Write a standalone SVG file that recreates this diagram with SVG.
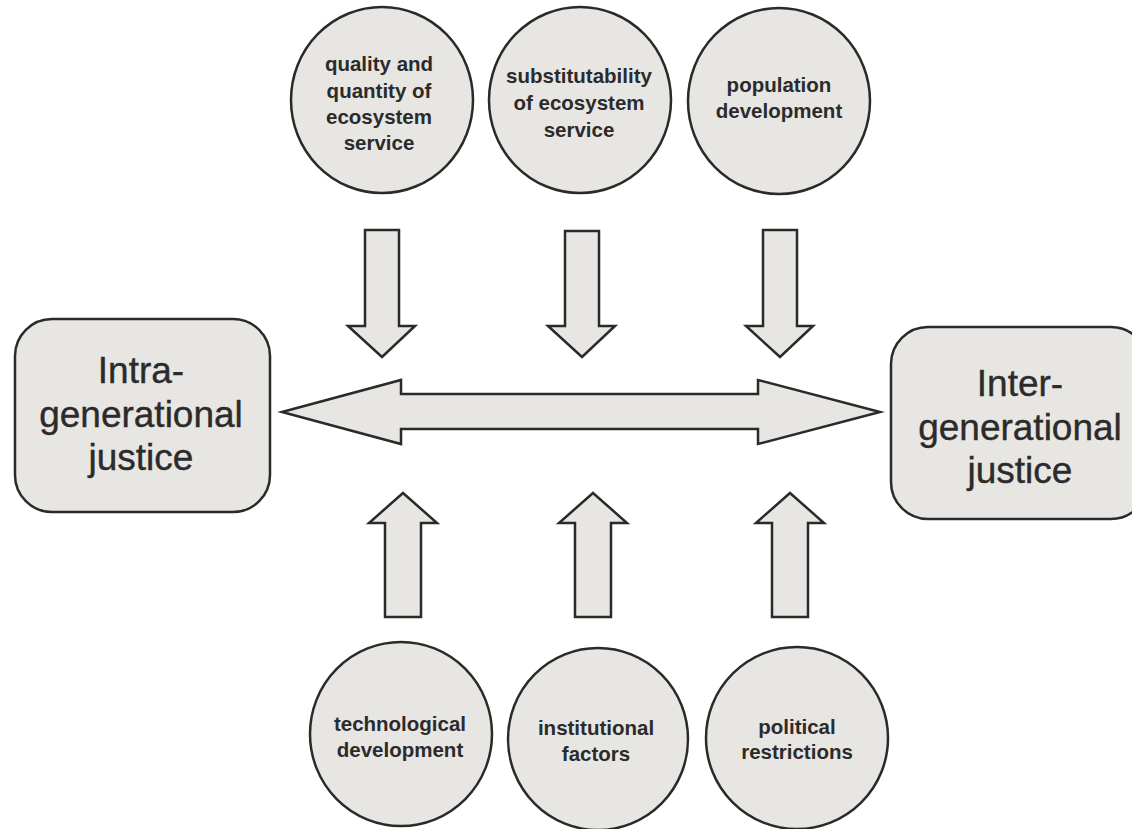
<svg xmlns="http://www.w3.org/2000/svg" width="1132" height="829" viewBox="0 0 1132 829">
<style>
.shape{fill:#e8e6e3;stroke:#2a2a2a;stroke-width:2.5;stroke-linejoin:miter}
.ct{font-family:"Liberation Sans",Arial,sans-serif;font-weight:bold;font-size:20.5px;fill:#2b2b2b;text-anchor:middle}
.bt{font-family:"Liberation Sans",Arial,sans-serif;font-size:37px;fill:#2b2b2b;stroke:#2b2b2b;stroke-width:0.4;text-anchor:middle}
</style>
<rect width="1132" height="829" fill="#ffffff"/>
<g id="connectors">
<polygon class="shape" points="365,230 399,230 399,326 415,326 382,357 348,326 365,326"/>
<polygon class="shape" points="565,231 599,231 599,326 615,326 582,357 548,326 565,326"/>
<polygon class="shape" points="763,230 797,230 797,326 813,326 780,357 746,326 763,326"/>
<polygon class="shape" points="282,412 401,380 401,394 758,394 758,380 880,412 758,444 758,429 401,429 401,444"/>
<polygon class="shape" points="403,493 437,523 421,523 421,617 385,617 385,523 369,523"/>
<polygon class="shape" points="593,493 627,523 611,523 611,617 575,617 575,523 559,523"/>
<polygon class="shape" points="790,493 824,523 808,523 808,617 772,617 772,523 756,523"/>
</g>
<g id="intra">
<rect class="shape" x="15" y="319" width="255" height="193" rx="37" ry="37"/>
<text class="bt" x="141" y="383">Intra-</text>
<text class="bt" x="141" y="427">generational</text>
<text class="bt" x="141" y="470">justice</text>
</g>
<g id="inter">
<rect class="shape" x="891" y="327" width="257" height="192" rx="37" ry="37"/>
<text class="bt" x="1020" y="396">Inter-</text>
<text class="bt" x="1020" y="440">generational</text>
<text class="bt" x="1020" y="483">justice</text>
</g>
<g id="quality">
<ellipse class="shape" cx="382" cy="100" rx="91" ry="93"/>
<text class="ct" x="379" y="71">quality and</text>
<text class="ct" x="379" y="98">quantity of</text>
<text class="ct" x="379" y="124">ecosystem</text>
<text class="ct" x="379" y="150">service</text>
</g>
<g id="substitutability">
<ellipse class="shape" cx="580" cy="100" rx="91" ry="93"/>
<text class="ct" x="579" y="83">substitutability</text>
<text class="ct" x="579" y="110">of ecosystem</text>
<text class="ct" x="579" y="137">service</text>
</g>
<g id="population">
<ellipse class="shape" cx="779" cy="101" rx="91" ry="93"/>
<text class="ct" x="779" y="92">population</text>
<text class="ct" x="779" y="118">development</text>
</g>
<g id="technological">
<ellipse class="shape" cx="401" cy="734" rx="91" ry="92"/>
<text class="ct" x="400" y="731">technological</text>
<text class="ct" x="400" y="757">development</text>
</g>
<g id="institutional">
<ellipse class="shape" cx="598" cy="739" rx="90" ry="91"/>
<text class="ct" x="596" y="735">institutional</text>
<text class="ct" x="596" y="761">factors</text>
</g>
<g id="political">
<ellipse class="shape" cx="797" cy="738" rx="91" ry="91"/>
<text class="ct" x="797" y="734">political</text>
<text class="ct" x="797" y="759">restrictions</text>
</g>
</svg>
